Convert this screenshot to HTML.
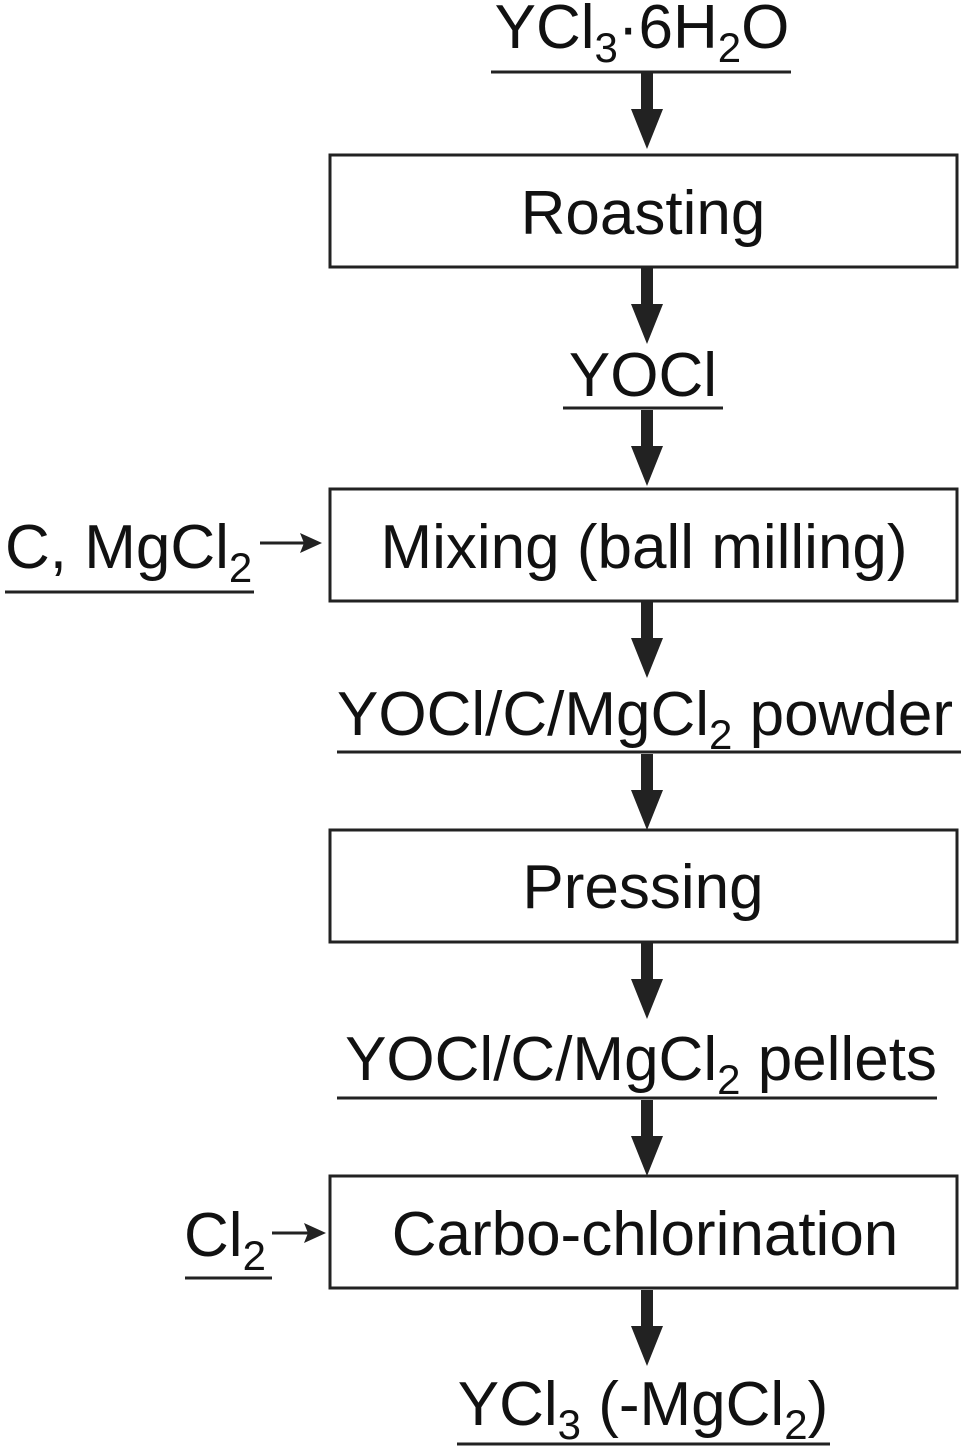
<!DOCTYPE html>
<html><head><style>body{margin:0;background:#fff}svg{display:block}</style></head><body>
<svg width="967" height="1448" viewBox="0 0 967 1448" xmlns="http://www.w3.org/2000/svg" font-family="Liberation Sans, Arial, sans-serif" fill="#111">
<defs>
<g id="ar"><rect x="-6" y="0" width="12" height="40" fill="#222"/><polygon points="-16,36 16,36 0,76" fill="#222"/></g>
</defs>
<g fill="none" stroke="#222" stroke-width="3">
<rect x="330" y="155" width="627" height="112"/>
<rect x="330" y="489" width="627" height="112"/>
<rect x="330" y="830" width="627" height="112"/>
<rect x="330" y="1176" width="627" height="112"/>
</g>
<g stroke="#222" stroke-width="3">
<line x1="491" y1="72" x2="791" y2="72"/>
<line x1="563" y1="408" x2="723" y2="408"/>
<line x1="337" y1="752" x2="961" y2="752"/>
<line x1="337" y1="1098" x2="937" y2="1098"/>
<line x1="457" y1="1444" x2="830" y2="1444"/>
<line x1="5" y1="592" x2="254" y2="592"/>
<line x1="185" y1="1278" x2="272" y2="1278"/>
<line x1="260" y1="543" x2="310" y2="543"/>
<line x1="272" y1="1233" x2="314" y2="1233"/>
</g>
<polygon points="322,543 300,533 304,543 300,553" fill="#222"/>
<polygon points="326,1233 304,1223 308,1233 304,1243" fill="#222"/>
<use href="#ar" x="647" y="73"/>
<use href="#ar" x="647" y="268"/>
<use href="#ar" x="647" y="410"/>
<use href="#ar" x="647" y="602"/>
<use href="#ar" x="647" y="754"/>
<use href="#ar" x="647" y="943"/>
<use href="#ar" x="647" y="1100"/>
<use href="#ar" x="647" y="1290"/>
<g font-size="62" text-anchor="middle">
<text x="642" y="48">YCl<tspan font-size="42" dy="14">3</tspan><tspan dy="-14">·6H</tspan><tspan font-size="42" dy="14">2</tspan><tspan dy="-14">O</tspan></text>
<text x="643" y="234">Roasting</text>
<text x="643" y="396">YOCl</text>
<text x="644" y="568">Mixing (ball milling)</text>
<text x="645" y="735">YOCl/C/MgCl<tspan font-size="42" dy="14">2</tspan><tspan dy="-14"> powder</tspan></text>
<text x="643" y="908">Pressing</text>
<text x="641" y="1080">YOCl/C/MgCl<tspan font-size="42" dy="14">2</tspan><tspan dy="-14"> pellets</tspan></text>
<text x="645" y="1255">Carbo-chlorination</text>
<text x="643" y="1425">YCl<tspan font-size="42" dy="14">3</tspan><tspan dy="-14"> (-MgCl</tspan><tspan font-size="42" dy="14">2</tspan><tspan dy="-14">)</tspan></text>
</g>
<g font-size="62">
<text x="5" y="568">C, MgCl<tspan font-size="42" dy="14">2</tspan></text>
<text x="184" y="1256">Cl<tspan font-size="42" dy="14">2</tspan></text>
</g>
</svg>
</body></html>
